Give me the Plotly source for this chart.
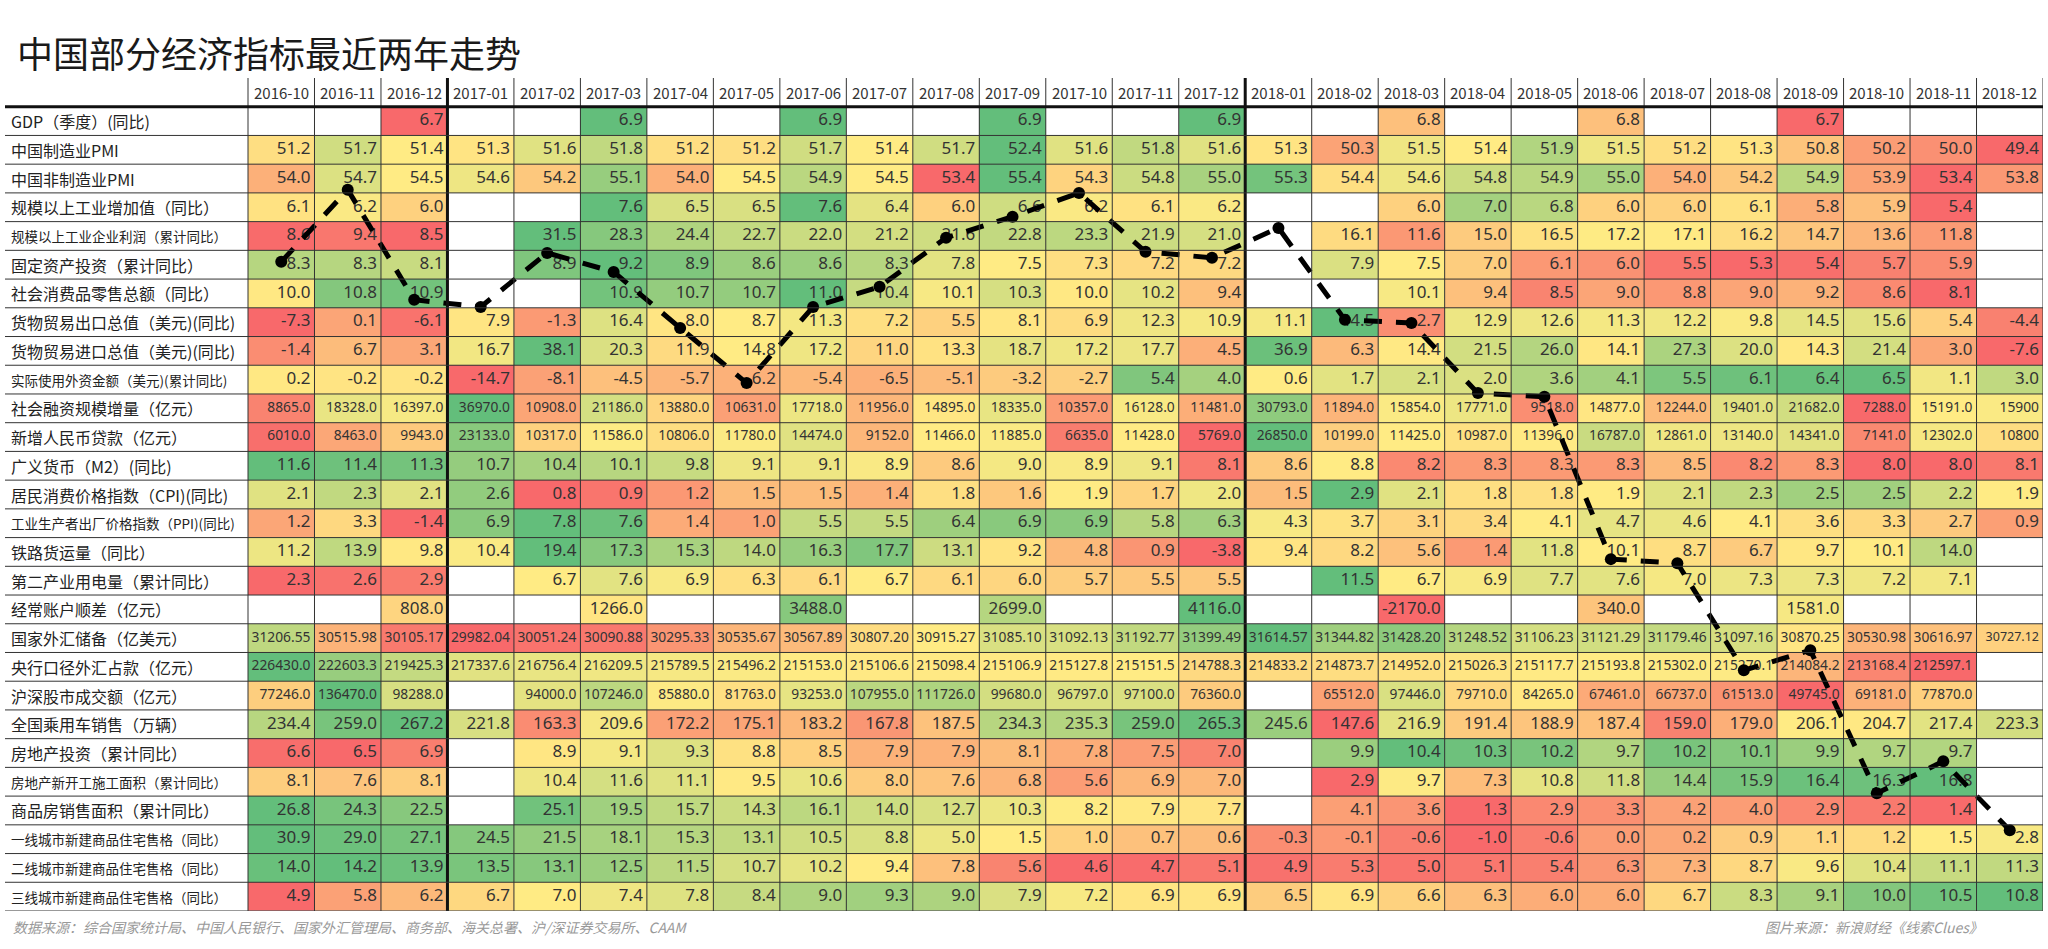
import numpy as np
import plotly.graph_objects as go

N = None

months = ["2016-10", "2016-11", "2016-12",
          "2017-01", "2017-02", "2017-03", "2017-04", "2017-05", "2017-06",
          "2017-07", "2017-08", "2017-09", "2017-10", "2017-11", "2017-12",
          "2018-01", "2018-02", "2018-03", "2018-04", "2018-05", "2018-06",
          "2018-07", "2018-08", "2018-09", "2018-10", "2018-11", "2018-12"]

indicators = ["GDP（季度）(同比)", "中国制造业PMI", "中国非制造业PMI", "规模以上工业增加值（同比）",
              "规模以上工业企业利润（累计同比）", "固定资产投资（累计同比）", "社会消费品零售总额（同比）",
              "货物贸易出口总值（美元)(同比)", "货物贸易进口总值（美元)(同比)", "实际使用外资金额（美元)(累计同比)",
              "社会融资规模增量（亿元）", "新增人民币贷款（亿元）", "广义货币（M2）(同比)",
              "居民消费价格指数（CPI)(同比)", "工业生产者出厂价格指数（PPI)(同比)", "铁路货运量（同比）",
              "第二产业用电量（累计同比）", "经常账户顺差（亿元）", "国家外汇储备（亿美元）",
              "央行口径外汇占款（亿元）", "沪深股市成交额（亿元）", "全国乘用车销售（万辆）",
              "房地产投资（累计同比）", "房地产新开工施工面积（累计同比）", "商品房销售面积（累计同比）",
              "一线城市新建商品住宅售格（同比）", "二线城市新建商品住宅售格（同比）", "三线城市新建商品住宅售格（同比）"]

gdp = [N, N, 6.7, N, N, 6.9, N, N, 6.9, N, N, 6.9, N, N, 6.9, N, N, 6.8, N, N, 6.8, N, N, 6.7, N, N, N]
pmi_mfg = [51.2, 51.7, 51.4, 51.3, 51.6, 51.8, 51.2, 51.2, 51.7, 51.4, 51.7, 52.4, 51.6, 51.8, 51.6,
           51.3, 50.3, 51.5, 51.4, 51.9, 51.5, 51.2, 51.3, 50.8, 50.2, 50.0, 49.4]
pmi_non = [54.0, 54.7, 54.5, 54.6, 54.2, 55.1, 54.0, 54.5, 54.9, 54.5, 53.4, 55.4, 54.3, 54.8, 55.0,
           55.3, 54.4, 54.6, 54.8, 54.9, 55.0, 54.0, 54.2, 54.9, 53.9, 53.4, 53.8]
ind_add = [6.1, 6.2, 6.0, N, N, 7.6, 6.5, 6.5, 7.6, 6.4, 6.0, 6.6, 6.2, 6.1, 6.2,
           N, N, 6.0, 7.0, 6.8, 6.0, 6.0, 6.1, 5.8, 5.9, 5.4, N]
ind_profit = [8.6, 9.4, 8.5, N, 31.5, 28.3, 24.4, 22.7, 22.0, 21.2, 21.6, 22.8, 23.3, 21.9, 21.0,
              N, 16.1, 11.6, 15.0, 16.5, 17.2, 17.1, 16.2, 14.7, 13.6, 11.8, N]
fai = [8.3, 8.3, 8.1, N, 8.9, 9.2, 8.9, 8.6, 8.6, 8.3, 7.8, 7.5, 7.3, 7.2, 7.2,
       N, 7.9, 7.5, 7.0, 6.1, 6.0, 5.5, 5.3, 5.4, 5.7, 5.9, N]
retail = [10.0, 10.8, 10.9, N, N, 10.9, 10.7, 10.7, 11.0, 10.4, 10.1, 10.3, 10.0, 10.2, 9.4,
          N, N, 10.1, 9.4, 8.5, 9.0, 8.8, 9.0, 9.2, 8.6, 8.1, N]
exports = [-7.3, 0.1, -6.1, 7.9, -1.3, 16.4, 8.0, 8.7, 11.3, 7.2, 5.5, 8.1, 6.9, 12.3, 10.9,
           11.1, 44.5, -2.7, 12.9, 12.6, 11.3, 12.2, 9.8, 14.5, 15.6, 5.4, -4.4]
imports = [-1.4, 6.7, 3.1, 16.7, 38.1, 20.3, 11.9, 14.8, 17.2, 11.0, 13.3, 18.7, 17.2, 17.7, 4.5,
           36.9, 6.3, 14.4, 21.5, 26.0, 14.1, 27.3, 20.0, 14.3, 21.4, 3.0, -7.6]
fdi = [0.2, -0.2, -0.2, -14.7, -8.1, -4.5, -5.7, -6.2, -5.4, -6.5, -5.1, -3.2, -2.7, 5.4, 4.0,
       0.6, 1.7, 2.1, 2.0, 3.6, 4.1, 5.5, 6.1, 6.4, 6.5, 1.1, 3.0]
tsf = [8865.0, 18328.0, 16397.0, 36970.0, 10908.0, 21186.0, 13880.0, 10631.0, 17718.0, 11956.0,
       14895.0, 18335.0, 10357.0, 16128.0, 11481.0, 30793.0, 11894.0, 15854.0, 17771.0, 9518.0,
       14877.0, 12244.0, 19401.0, 21682.0, 7288.0, 15191.0, 15900]
loans = [6010.0, 8463.0, 9943.0, 23133.0, 10317.0, 11586.0, 10806.0, 11780.0, 14474.0, 9152.0,
         11466.0, 11885.0, 6635.0, 11428.0, 5769.0, 26850.0, 10199.0, 11425.0, 10987.0, 11396.0,
         16787.0, 12861.0, 13140.0, 14341.0, 7141.0, 12302.0, 10800]
m2 = [11.6, 11.4, 11.3, 10.7, 10.4, 10.1, 9.8, 9.1, 9.1, 8.9, 8.6, 9.0, 8.9, 9.1, 8.1,
      8.6, 8.8, 8.2, 8.3, 8.3, 8.3, 8.5, 8.2, 8.3, 8.0, 8.0, 8.1]
cpi = [2.1, 2.3, 2.1, 2.6, 0.8, 0.9, 1.2, 1.5, 1.5, 1.4, 1.8, 1.6, 1.9, 1.7, 2.0,
       1.5, 2.9, 2.1, 1.8, 1.8, 1.9, 2.1, 2.3, 2.5, 2.5, 2.2, 1.9]
ppi = [1.2, 3.3, -1.4, 6.9, 7.8, 7.6, 1.4, 1.0, 5.5, 5.5, 6.4, 6.9, 6.9, 5.8, 6.3,
       4.3, 3.7, 3.1, 3.4, 4.1, 4.7, 4.6, 4.1, 3.6, 3.3, 2.7, 0.9]
rail = [11.2, 13.9, 9.8, 10.4, 19.4, 17.3, 15.3, 14.0, 16.3, 17.7, 13.1, 9.2, 4.8, 0.9, -3.8,
        9.4, 8.2, 5.6, 1.4, 11.8, 10.1, 8.7, 6.7, 9.7, 10.1, 14.0, N]
power = [2.3, 2.6, 2.9, N, 6.7, 7.6, 6.9, 6.3, 6.1, 6.7, 6.1, 6.0, 5.7, 5.5, 5.5,
         N, 11.5, 6.7, 6.9, 7.7, 7.6, 7.0, 7.3, 7.3, 7.2, 7.1, N]
current_acct = [N, N, 808.0, N, N, 1266.0, N, N, 3488.0, N, N, 2699.0, N, N, 4116.0,
                N, N, -2170.0, N, N, 340.0, N, N, 1581.0, N, N, N]
fx_reserve = [31206.55, 30515.98, 30105.17, 29982.04, 30051.24, 30090.88, 30295.33, 30535.67,
              30567.89, 30807.20, 30915.27, 31085.10, 31092.13, 31192.77, 31399.49, 31614.57,
              31344.82, 31428.20, 31248.52, 31106.23, 31121.29, 31179.46, 31097.16, 30870.25,
              30530.98, 30616.97, 30727.12]
fx_funds = [226430.0, 222603.3, 219425.3, 217337.6, 216756.4, 216209.5, 215789.5, 215496.2,
            215153.0, 215106.6, 215098.4, 215106.9, 215127.8, 215151.5, 214788.3, 214833.2,
            214873.7, 214952.0, 215026.3, 215117.7, 215193.8, 215302.0, 215270.1, 214084.2,
            213168.4, 212597.1, N]
turnover = [77246.0, 136470.0, 98288.0, N, 94000.0, 107246.0, 85880.0, 81763.0, 93253.0,
            107955.0, 111726.0, 99680.0, 96797.0, 97100.0, 76360.0, N, 65512.0, 97446.0,
            79710.0, 84265.0, 67461.0, 66737.0, 61513.0, 49745.0, 69181.0, 77870.0, N]
car_sales = [234.4, 259.0, 267.2, 221.8, 163.3, 209.6, 172.2, 175.1, 183.2, 167.8, 187.5, 234.3,
             235.3, 259.0, 265.3, 245.6, 147.6, 216.9, 191.4, 188.9, 187.4, 159.0, 179.0, 206.1,
             204.7, 217.4, 223.3]
re_invest = [6.6, 6.5, 6.9, N, 8.9, 9.1, 9.3, 8.8, 8.5, 7.9, 7.9, 8.1, 7.8, 7.5, 7.0,
             N, 9.9, 10.4, 10.3, 10.2, 9.7, 10.2, 10.1, 9.9, 9.7, 9.7, N]
re_new_start = [8.1, 7.6, 8.1, N, 10.4, 11.6, 11.1, 9.5, 10.6, 8.0, 7.6, 6.8, 5.6, 6.9, 7.0,
                N, 2.9, 9.7, 7.3, 10.8, 11.8, 14.4, 15.9, 16.4, 16.3, 16.8, N]
house_sales = [26.8, 24.3, 22.5, N, 25.1, 19.5, 15.7, 14.3, 16.1, 14.0, 12.7, 10.3, 8.2, 7.9, 7.7,
               N, 4.1, 3.6, 1.3, 2.9, 3.3, 4.2, 4.0, 2.9, 2.2, 1.4, N]
tier1 = [30.9, 29.0, 27.1, 24.5, 21.5, 18.1, 15.3, 13.1, 10.5, 8.8, 5.0, 1.5, 1.0, 0.7, 0.6,
         -0.3, -0.1, -0.6, -1.0, -0.6, 0.0, 0.2, 0.9, 1.1, 1.2, 1.5, 2.8]
tier2 = [14.0, 14.2, 13.9, 13.5, 13.1, 12.5, 11.5, 10.7, 10.2, 9.4, 7.8, 5.6, 4.6, 4.7, 5.1,
         4.9, 5.3, 5.0, 5.1, 5.4, 6.3, 7.3, 8.7, 9.6, 10.4, 11.1, 11.3]
tier3 = [4.9, 5.8, 6.2, 6.7, 7.0, 7.4, 7.8, 8.4, 9.0, 9.3, 9.0, 7.9, 7.2, 6.9, 6.9,
         6.5, 6.9, 6.6, 6.3, 6.0, 6.0, 6.7, 8.3, 9.1, 10.0, 10.5, 10.8]

# hand-drawn dashed trend line overlaid on the table (position in row units, one point per month)
trend_row = [4.90, 2.39, 6.22, 6.47, 4.59, 5.25, 7.20, 9.12, 6.47, 5.77, 4.06, 3.33, 2.50, 4.55,
             4.76, 3.72, 6.92, 7.03, 9.47, 9.60, 15.25, 15.39, 19.12, 18.42, 23.40, 22.29, 24.69]

rows = [gdp, pmi_mfg, pmi_non, ind_add, ind_profit, fai, retail, exports, imports, fdi, tsf, loans,
        m2, cpi, ppi, rail, power, current_acct, fx_reserve, fx_funds, turnover, car_sales,
        re_invest, re_new_start, house_sales, tier1, tier2, tier3]

nrow, ncol = len(rows), len(months)
z = np.array([[np.nan if v is None else v for v in r] for r in rows], dtype=float)

# Excel-like 3-colour scale per row: min red, median yellow, max green
zn = np.full_like(z, np.nan)
for i in range(nrow):
    vals = z[i][~np.isnan(z[i])]
    lo, hi, mid = vals.min(), vals.max(), np.percentile(vals, 50)
    for j in range(ncol):
        v = z[i, j]
        if np.isnan(v):
            continue
        if v <= mid:
            zn[i, j] = 0.5 * (v - lo) / (mid - lo) if mid > lo else 0.5
        else:
            zn[i, j] = 0.5 + 0.5 * (v - mid) / (hi - mid) if hi > mid else 0.5

COLW = 66.48  # px per column unit
PAD = 4 / COLW
small_rows = {10, 11, 18, 19, 20}
tx, ty, tt, ts = [], [], [], []
for i in range(nrow):
    for j in range(ncol):
        v = z[i, j]
        if np.isnan(v):
            continue
        if i == 18:
            s = f"{v:.2f}"
        elif i in (10, 11) and j == ncol - 1:
            s = f"{v:.0f}"
        else:
            s = f"{v:.1f}"
        tx.append(j + 0.5 - PAD)
        ty.append(i)
        tt.append(s)
        if i == 18 and j == ncol - 1:
            ts.append(12.5)
        elif i in small_rows:
            ts.append(13.8)
        else:
            ts.append(17)

fig = go.Figure()
fig.add_trace(go.Heatmap(
    z=zn, x=list(range(ncol)), y=list(range(nrow)),
    colorscale=[[0, "#F8696B"], [0.5, "#FFEB84"], [1, "#63BE7B"]],
    zmin=0, zmax=1, showscale=False, hoverinfo="skip"))

fig.add_trace(go.Scatter(
    x=tx, y=ty, text=tt, mode="text", textposition="middle left",
    textfont=dict(size=ts, color="#333333", family="Noto Sans, Liberation Sans, sans-serif"),
    hoverinfo="skip", showlegend=False))

fig.add_trace(go.Scatter(
    x=list(range(ncol)), y=trend_row, mode="lines+markers",
    line=dict(color="black", width=5, dash="18px,14px"),
    marker=dict(color="black", size=12),
    hoverinfo="skip", showlegend=False))

LX = -0.5 - 243 / COLW
shapes = []
for j in range(ncol + 1):
    xv = j - 0.5
    thick = xv in (2.5, 14.5)
    shapes.append(dict(type="line", xref="x", yref="y", x0=xv, x1=xv, y0=-1.5, y1=nrow - 0.5,
                       line=dict(color="#111" if thick else "#333", width=3 if thick else 1), layer="above"))
for r in range(nrow + 1):
    yv = r - 0.5
    thick = r == 0
    shapes.append(dict(type="line", xref="x", yref="y", x0=LX, x1=ncol - 0.5, y0=yv, y1=yv,
                       line=dict(color="#111" if thick else "#333", width=3 if thick else 1), layer="above"))

annotations = []
for j, m in enumerate(months):
    annotations.append(dict(x=j, y=-1, xref="x", yref="y", text=m, showarrow=False,
                            font=dict(size=15, color="#333", family="Noto Sans CJK SC")))
long_labels = {4, 9, 14, 23, 25, 26, 27}
for i, lab in enumerate(indicators):
    annotations.append(dict(x=LX, y=i, xref="x", yref="y", text=lab, showarrow=False,
                            xanchor="left", xshift=4,
                            font=dict(size=13.5 if i in long_labels else 16, color="#222",
                                      family="Noto Sans CJK SC")))
annotations.append(dict(x=0, y=1, xref="paper", yref="paper", xanchor="left", yanchor="middle",
                        xshift=10, yshift=26, showarrow=False, text="中国部分经济指标最近两年走势",
                        font=dict(size=36, color="#1a1a1a", family="Noto Sans CJK SC")))
annotations.append(dict(x=0, y=0, xref="paper", yref="paper", xanchor="left", yanchor="middle",
                        xshift=6, yshift=-16, showarrow=False,
                        text="<i>数据来源：综合国家统计局、中国人民银行、国家外汇管理局、商务部、海关总署、沪/深证券交易所、CAAM</i>",
                        font=dict(size=14, color="#999", family="Noto Sans CJK SC")))
annotations.append(dict(x=0, y=0, xref="paper", yref="paper", xanchor="left", yanchor="middle",
                        xshift=1758, yshift=-16, showarrow=False,
                        text="<i>图片来源：新浪财经《线索Clues》</i>",
                        font=dict(size=14, color="#999", family="Noto Sans CJK SC")))

fig.update_layout(
    width=2048, height=949,
    margin=dict(l=5, r=5, t=78, b=38, pad=0),
    paper_bgcolor="white", plot_bgcolor="white",
    xaxis=dict(range=[LX, ncol - 0.5], visible=False, fixedrange=True),
    yaxis=dict(range=[nrow - 0.5, -1.5], visible=False, fixedrange=True),
    shapes=shapes, annotations=annotations, showlegend=False)

fig.write_html("out.html", config={"displayModeBar": False},
               post_script="document.body.style.margin='0';document.body.style.overflow='hidden';")
